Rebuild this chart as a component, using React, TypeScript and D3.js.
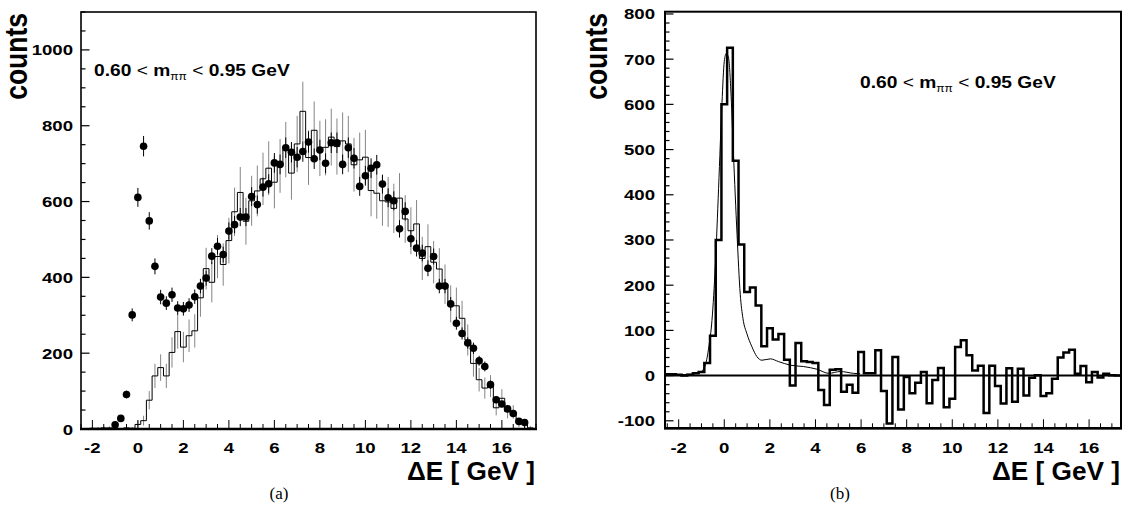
import React from 'react';
import * as d3 from 'd3';

const BIN = 0.25;

// (a) data points: bin centres from -1.0 GeV in 0.25 GeV steps
const dataStart = -1.0;
const dataCounts = [11, 28, 91, 301, 611, 746, 549, 429, 348, 332, 354, 319, 317, 327, 349, 377, 398, 456, 482, 460, 522, 539, 559, 559, 613, 592, 638, 647, 702, 698, 742, 730, 717, 732, 757, 713, 736, 701, 755, 755, 698, 742, 714, 640, 668, 688, 697, 646, 610, 602, 528, 574, 502, 477, 464, 424, 455, 377, 377, 330, 279, 252, 227, 213, 180, 165, 117, 77, 66, 53, 41, 20, 17];
const dataErrors = [3, 5, 10, 17, 25, 27, 23, 21, 19, 18, 19, 18, 18, 18, 19, 19, 20, 21, 22, 21, 23, 23, 24, 24, 25, 24, 25, 25, 26, 26, 27, 27, 27, 27, 28, 27, 27, 26, 27, 27, 26, 27, 27, 25, 26, 26, 26, 25, 25, 25, 23, 24, 22, 22, 22, 21, 21, 19, 19, 18, 17, 16, 15, 15, 13, 13, 11, 9, 8, 7, 6, 4, 4];

// (a) simulated histogram: bin centres from -2.25 GeV
const mcStart = -2.25;
const mcCounts = [1, 2, 2, 3, 3, 3, 1, 3, 2, 12, 22, 76, 140, 162, 140, 202, 257, 216, 246, 259, 346, 423, 387, 455, 434, 497, 573, 624, 548, 602, 628, 660, 688, 651, 694, 737, 675, 752, 838, 716, 788, 740, 743, 770, 745, 760, 752, 697, 710, 717, 629, 622, 602, 599, 582, 609, 554, 523, 541, 450, 481, 440, 422, 382, 330, 325, 292, 235, 173, 130, 108, 113, 56, 81, 46, 45, 16, 15, 3];
const mcErrors = [2, 3, 3, 4, 4, 4, 2, 4, 3, 10, 13, 24, 32, 35, 32, 40, 45, 40, 43, 44, 50, 55, 53, 57, 56, 60, 64, 67, 62, 66, 67, 69, 71, 69, 71, 73, 70, 74, 78, 72, 76, 73, 74, 75, 74, 75, 74, 71, 72, 72, 68, 67, 66, 66, 65, 66, 63, 62, 63, 57, 59, 56, 55, 52, 49, 48, 46, 41, 35, 31, 28, 29, 20, 24, 18, 18, 11, 10, 5];

// (b) difference histogram: bin centres from -2.5 GeV
const diffStart = -2.5;
const diffCounts = [3, 3, 2, 0, 2, 5, 8, 28, 88, 300, 600, 725, 475, 290, 185, 195, 155, 65, 105, 80, 92, 35, -22, 72, 32, 30, 28, -32, -65, 13, 14, -36, -20, -38, 52, 5, 5, 56, -34, -106, 41, -75, -3, -39, -16, 8, -61, -10, 17, -70, -51, 63, 78, 45, 11, 22, -83, 22, -23, -62, 16, -58, 15, -44, -5, 1, -45, -39, -7, 40, 51, 57, 4, 21, -15, 8, -4, 4, 1, 0];

// (b) fitted line shape
const fitX = [-2.6, -2.0, -1.5, -1.2, -1.03, -0.82, -0.68, -0.54, -0.39, -0.25, -0.1, 0.0, 0.09, 0.19, 0.3, 0.4, 0.56, 0.7, 0.82, 0.99, 1.21, 1.43, 1.65, 2.02, 2.38, 2.9, 3.48, 4.07, 4.58, 5.09, 5.67, 5.96];
const fitY = [1, 2, 3, 5, 8, 25, 63, 122, 246, 414, 604, 695, 713, 702, 618, 494, 312, 180, 126, 93, 64, 42, 34, 37, 31, 23, 20, 14, 5, 9, 5, 4];

const xTickLabels = [-2, 0, 2, 4, 6, 8, 10, 12, 14, 16];
const leftYTickLabels = [0, 200, 400, 600, 800, 1000];
const rightYTickLabels = [-100, 0, 100, 200, 300, 400, 500, 600, 700, 800];

const FONT = '"Liberation Sans", Arial, Helvetica, sans-serif';
const SERIF = '"Liberation Serif", "Times New Roman", serif';

type Lin = d3.ScaleLinear<number, number>;

function stepPoints(start: number, counts: number[], x: Lin, y: Lin, closeToZero: boolean): [number, number][] {
  const pts: [number, number][] = [];
  const x0 = start - BIN / 2;
  if (closeToZero) pts.push([x(x0), y(0)]);
  counts.forEach((v, i) => {
    pts.push([x(x0 + i * BIN), y(v)]);
    pts.push([x(x0 + (i + 1) * BIN), y(v)]);
  });
  if (closeToZero) pts.push([x(x0 + counts.length * BIN), y(0)]);
  return pts;
}

function Txt(props: { x: number; y: number; size: number; anchor?: string; sx?: number; weight?: string; family?: string; children: React.ReactNode }) {
  const { x, y, size, anchor = 'start', sx = 1.2, weight = 'bold', family = FONT, children } = props;
  return (
    <text transform={`translate(${x},${y}) scale(${sx},1)`} textAnchor={anchor} fontSize={size} fontWeight={weight} fontFamily={family} fill="#000">
      {children}
    </text>
  );
}

function Axes(props: { x: Lin; y: Lin; yMinor: number; yMajor: number; yLabels: number[]; labelRight: number; frameW: number; countsX: number }) {
  const { x, y, yMinor, yMajor, yLabels, labelRight, frameW, countsX } = props;
  const [xa, xb] = x.range();
  const [yb, ya] = y.range();
  const [dx0, dx1] = x.domain();
  const [dy0, dy1] = y.domain();
  const xMinor = d3.range(Math.ceil(dx0 / 0.5) * 0.5, dx1 + 1e-9, 0.5);
  const yTicks = d3.range(Math.ceil(dy0 / yMinor) * yMinor, dy1 + 1e-9, yMinor);
  return (
    <g>
      <rect x={xa} y={ya} width={xb - xa} height={yb - ya} fill="none" stroke="#000" strokeWidth={frameW} />
      <line x1={xa - 1} x2={xb + 1} y1={yb} y2={yb} stroke="#000" strokeWidth={2.6} />
      {xMinor.map((t) => {
        const major = Math.abs(t / 2 - Math.round(t / 2)) < 1e-6;
        return <line key={'xt' + t} x1={x(t)} x2={x(t)} y1={yb} y2={yb - (major ? 9 : 5)} stroke="#000" strokeWidth={1} />;
      })}
      {yTicks.map((t) => {
        const major = Math.abs(t / yMajor - Math.round(t / yMajor)) < 1e-6;
        return <line key={'yt' + t} x1={xa} x2={xa + (major ? 8.5 : 4.5)} y1={y(t)} y2={y(t)} stroke="#000" strokeWidth={1.2} />;
      })}
      {xTickLabels.map((t) => (
        <Txt key={'xl' + t} x={x(t)} y={453} size={15.5} anchor="middle">{String(t)}</Txt>
      ))}
      {yLabels.map((t) => (
        <Txt key={'yl' + t} x={labelRight} y={y(t) + 5.5} size={15.5} anchor="end">{String(t)}</Txt>
      ))}
      <text transform={`translate(${countsX},13) rotate(-90) scale(1,1.2)`} textAnchor="end" fontSize={26.5} fontWeight="bold" fontFamily={FONT}>counts</text>
      <text x={xb - 1} y={480} textAnchor="end" fontSize={25} fontWeight="bold" fontFamily={FONT} textLength={128} lengthAdjust="spacingAndGlyphs">ΔE [ GeV ]</text>
    </g>
  );
}

function RangeLabel(props: { x: number; y: number }) {
  return (
    <text transform={`translate(${props.x},${props.y}) scale(1.2,1)`} fontSize={16} fontWeight="bold" fontFamily={FONT}>
      <tspan>0.60 </tspan>
      <tspan fontWeight="normal">&lt;</tspan>
      <tspan> m</tspan>
      <tspan fontSize={10} fontWeight="normal" dy={4}>ππ</tspan>
      <tspan dy={-4}> </tspan>
      <tspan fontWeight="normal">&lt;</tspan>
      <tspan> 0.95 GeV</tspan>
    </text>
  );
}

export default function App() {
  const xL = d3.scaleLinear().domain([-2.5, 17.5]).range([81, 536]);
  const yL = d3.scaleLinear().domain([0, 1100]).range([429, 12]);
  const xR = d3.scaleLinear().domain([-2.6, 17.4]).range([665, 1121]);
  const yR = d3.scaleLinear().domain([-116.6, 805]).range([428.3, 11.7]);

  const line = d3.line<[number, number]>();
  const mcPath = line(stepPoints(mcStart, mcCounts, xL, yL, true)) || '';
  const diffPath = line(stepPoints(diffStart, diffCounts, xR, yR, false)) || '';
  const fitPath = d3
    .line<number>()
    .x((d) => xR(d))
    .y((_, i) => yR(fitY[i]))
    .curve(d3.curveMonotoneX)(fitX) || '';

  return (
    <svg width={1122} height={511} viewBox="0 0 1122 511" style={{ position: 'absolute', left: 0, top: 0, background: '#fff' }}>
      <defs>
        <clipPath id="clipL"><rect x={81} y={12} width={455} height={417} /></clipPath>
        <clipPath id="clipR"><rect x={665} y={11.7} width={456} height={416.6} /></clipPath>
      </defs>
      <rect x={0} y={0} width={1122} height={511} fill="#fff" />

      {/* Panel (a) */}
      <g clipPath="url(#clipL)">
        {mcCounts.map((v, i) => {
          const c = mcStart + i * BIN;
          return <line key={'me' + i} x1={xL(c)} x2={xL(c)} y1={yL(v - mcErrors[i])} y2={yL(v + mcErrors[i])} stroke="#858585" strokeWidth={1} />;
        })}
        <path d={mcPath} fill="none" stroke="#000" strokeWidth={1} />
        {dataCounts.map((v, i) => {
          const c = dataStart + i * BIN;
          return <line key={'de' + i} x1={xL(c)} x2={xL(c)} y1={yL(v - dataErrors[i])} y2={yL(v + dataErrors[i])} stroke="#000" strokeWidth={1} />;
        })}
        {dataCounts.map((v, i) => (
          <circle key={'dp' + i} cx={xL(dataStart + i * BIN)} cy={yL(v)} r={3.8} fill="#000" />
        ))}
      </g>
      <Axes x={xL} y={yL} yMinor={50} yMajor={200} yLabels={leftYTickLabels} labelRight={73} frameW={1.6} countsX={27} />
      <RangeLabel x={94} y={76} />
      <text x={279} y={499} textAnchor="middle" fontSize={17} fontFamily={SERIF}>(a)</text>

      {/* Panel (b) */}
      <g clipPath="url(#clipR)">
        <line x1={665} x2={1121} y1={yR(0)} y2={yR(0)} stroke="#000" strokeWidth={2} />
        <path d={fitPath} fill="none" stroke="#000" strokeWidth={1} />
        <path d={diffPath} fill="none" stroke="#000" strokeWidth={2.5} strokeLinejoin="miter" />
      </g>
      <Axes x={xR} y={yR} yMinor={20} yMajor={100} yLabels={rightYTickLabels} labelRight={655} frameW={2} countsX={607} />
      <RangeLabel x={860} y={88} />
      <text x={840} y={499} textAnchor="middle" fontSize={17} fontFamily={SERIF}>(b)</text>
    </svg>
  );
}
